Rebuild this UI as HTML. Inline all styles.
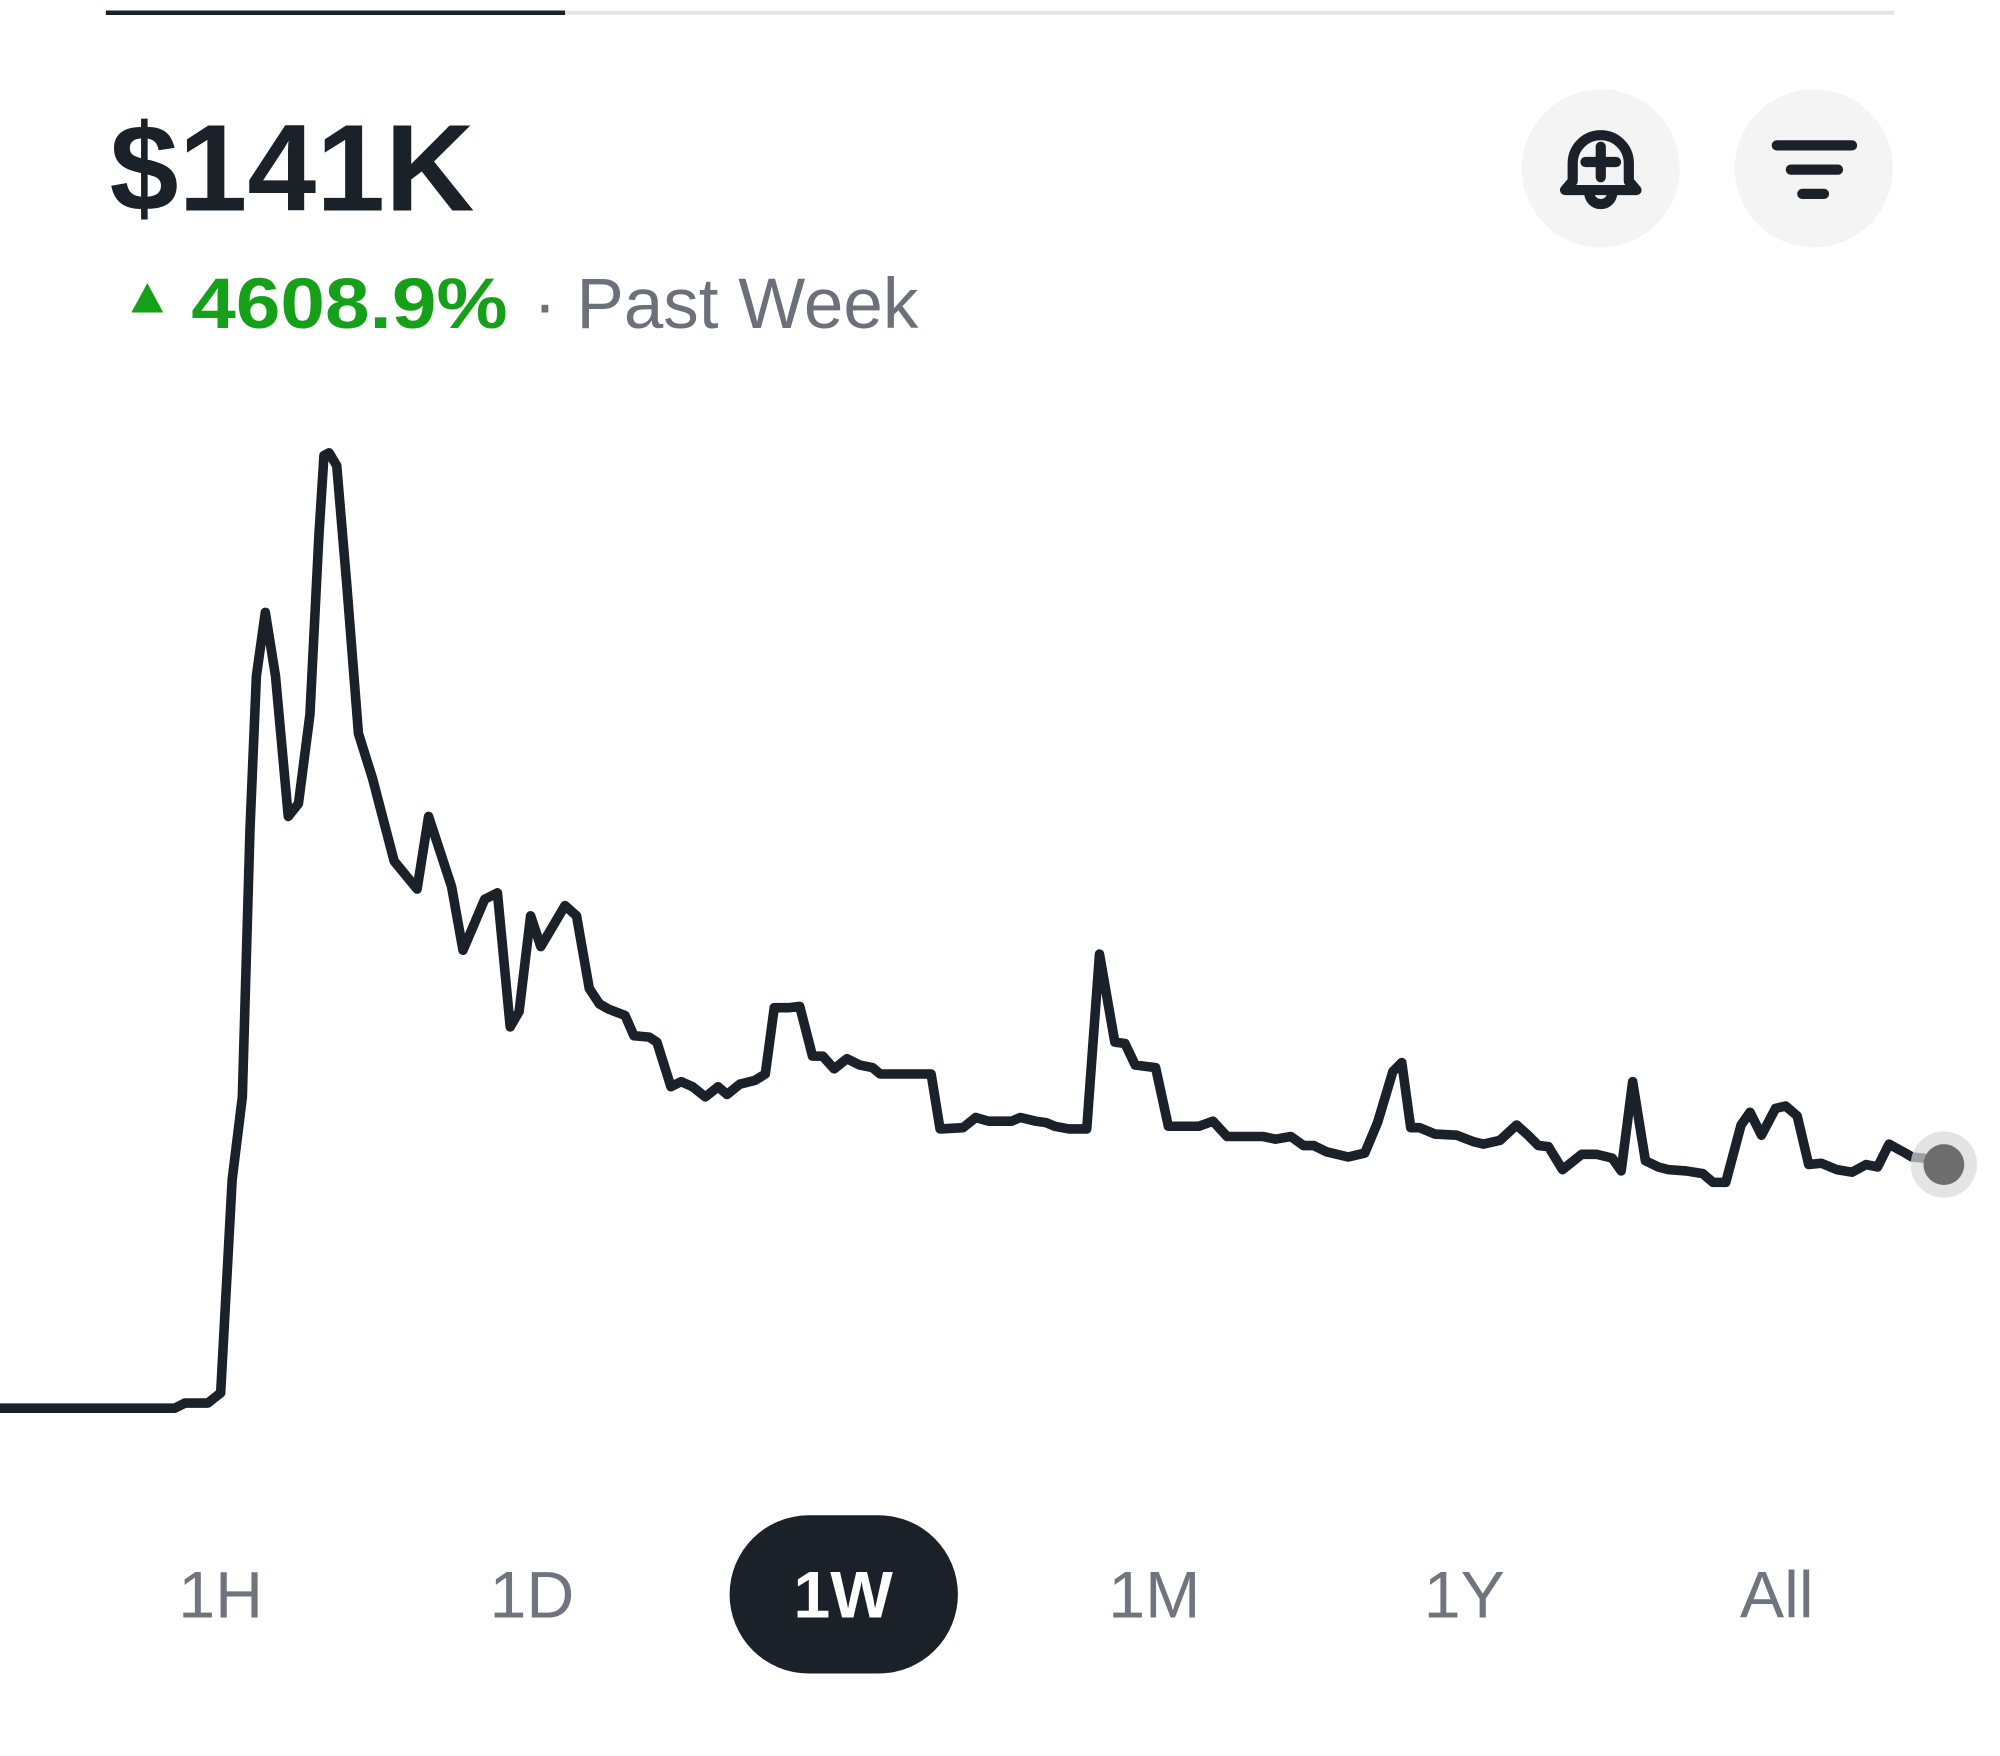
<!DOCTYPE html>
<html><head><meta charset="utf-8"><style>
html,body{margin:0;padding:0;background:#fff;width:2000px;height:1756px;overflow:hidden}
svg{display:block}
</style></head><body>
<svg width="2000" height="1756" viewBox="0 0 1568 1376.7" xmlns="http://www.w3.org/2000/svg" font-family="'Liberation Sans', sans-serif">
<rect width="1568" height="1377" fill="#fff"/>
<g>
<line x1="443" y1="10" x2="1485" y2="10" stroke="#e3e3e3" stroke-width="3"/>
<line x1="83" y1="10" x2="443" y2="10" stroke="#1b2129" stroke-width="3.5"/>
</g>
<text x="86" y="165" font-size="97" font-weight="bold" fill="#1b2129" textLength="286" lengthAdjust="spacingAndGlyphs">$141K</text>
<polygon points="103,245 128,245 115.5,222" fill="#16a01a"/>
<text x="150" y="257" font-size="56" font-weight="bold" fill="#16a01a" textLength="248" lengthAdjust="spacingAndGlyphs">4608.9%</text>
<text x="418" y="257" font-size="56" fill="#6c707a" textLength="302" lengthAdjust="spacingAndGlyphs">· Past Week</text>
<g>
<circle cx="1255" cy="132" r="62" fill="#f4f4f4"/>
<path d="M1233,142 L1233,128 A22,22 0 0 1 1277,128 L1277,142 L1283,149 L1227,149 Z" fill="none" stroke="#1b2129" stroke-width="8" stroke-linejoin="round"/>
<path d="M1246,151 A9,9 0 0 0 1264,151" fill="none" stroke="#1b2129" stroke-width="8"/>
<line x1="1255" y1="115" x2="1255" y2="139" stroke="#1b2129" stroke-width="8" stroke-linecap="round"/>
<line x1="1243" y1="127" x2="1267" y2="127" stroke="#1b2129" stroke-width="8" stroke-linecap="round"/>
</g>
<g>
<circle cx="1422" cy="132" r="62" fill="#f4f4f4"/>
<line x1="1393" y1="114" x2="1452" y2="114" stroke="#1b2129" stroke-width="8" stroke-linecap="round"/>
<line x1="1404" y1="133" x2="1441" y2="133" stroke="#1b2129" stroke-width="8" stroke-linecap="round"/>
<line x1="1413" y1="152" x2="1430" y2="152" stroke="#1b2129" stroke-width="8" stroke-linecap="round"/>
</g>
<g id="chart"></g>
<g>
<rect x="572" y="1188" width="179" height="124" rx="62" fill="#1b2129"/>
<text x="173" y="1268" font-size="52" fill="#70747e" text-anchor="middle">1H</text>
<text x="417" y="1268" font-size="52" fill="#70747e" text-anchor="middle">1D</text>
<text x="661" y="1268" font-size="52" font-weight="bold" fill="#fff" text-anchor="middle">1W</text>
<text x="905" y="1268" font-size="52" fill="#70747e" text-anchor="middle">1M</text>
<text x="1148" y="1268" font-size="52" fill="#70747e" text-anchor="middle">1Y</text>
<text x="1393" y="1268" font-size="52" fill="#70747e" text-anchor="middle">All</text>
</g>
</svg>
<script>
const times = [0,137,145,163,173,182,190,196,201,208,216,226,234,243,250,254,258,264,272,281,292,309,327,336,354,363,380,390,400,407,416,424,443,452,462,470,477,490,497,509,515,526,534,543,553,563,570,580,592,600,607,619,627,637,645,654,664,674,684,690,730,737,755,765,775,793,800,812,820,827,838,852,862,874,882,890,906,916,940,951,962,990,1000,1012,1022,1030,1040,1057,1070,1080,1092,1099,1106,1113,1125,1142,1155,1163,1176,1189,1198,1206,1214,1225,1240,1252,1264,1271,1280,1290,1300,1308,1322,1335,1343,1353,1365,1372,1381,1392,1400,1409,1418,1428,1440,1452,1463,1472,1481,1492,1499,1508,1524];
const values = [3,3,5.9,5.9,11.7,132.3,179.3,331,417.7,453.8,417.7,338.2,345.5,396,497.2,542.7,544.2,536.9,468.3,385.2,359.9,312.9,297.1,338.2,298.5,262.4,291.3,294.9,219,227.7,281.9,264.5,287.7,281.9,240.7,232,229.1,225.5,214,213.2,210.4,185.1,188,185.1,179.3,185.1,180.7,186.5,188.7,192.3,229.9,229.9,230.6,202.4,202.4,195.2,201,197.4,195.9,192.3,192.3,161.2,161.9,167.7,165.6,165.6,167.7,165.6,164.8,162.7,161.2,161.2,260.2,210.4,209.6,197.4,195.9,162.7,162.7,165.6,156.9,156.9,155.4,156.9,151.8,151.8,148.2,145.3,147.5,164.8,193.7,198.8,161.9,161.9,158.3,157.6,154,152.6,154.7,163.4,157.6,151.8,151.1,138.1,146.8,146.8,144.6,137.4,188,143.2,139.6,138.1,137.4,135.9,130.9,130.9,163.4,170.6,157.6,172.8,174.2,168.5,141,141.7,138.1,136.7,141,139.6,152.6,148.2,145.3,144.6,141];
const tMax = 1524;
function xScale(t){ return 0 + t / tMax * 1524; }
function yScale(v){ return 1104 - (v - 3) * 1.384; }
const NS = 'http://www.w3.org/2000/svg';
const g = document.getElementById('chart');
let d = '';
for (let i = 0; i < times.length; i++) {
  d += (i ? 'L' : 'M') + xScale(times[i]).toFixed(1) + ',' + yScale(values[i]).toFixed(1);
}
const path = document.createElementNS(NS, 'path');
path.setAttribute('d', d);
path.setAttribute('fill', 'none');
path.setAttribute('stroke', '#1b2129');
path.setAttribute('stroke-width', '7.5');
path.setAttribute('stroke-linejoin', 'round');


g.appendChild(path);
const last = times.length - 1;
const halo = document.createElementNS(NS, 'circle');
halo.setAttribute('cx', xScale(times[last]));
halo.setAttribute('cy', yScale(values[last]));
halo.setAttribute('r', '26');
halo.setAttribute('fill', '#d8d8d8');
halo.setAttribute('opacity', '0.7');


g.appendChild(halo);
const dot = document.createElementNS(NS, 'circle');
dot.setAttribute('cx', xScale(times[last]));
dot.setAttribute('cy', yScale(values[last]));
dot.setAttribute('r', '16');
dot.setAttribute('fill', '#6e6e6e');


g.appendChild(dot);
</script>
</body></html>
